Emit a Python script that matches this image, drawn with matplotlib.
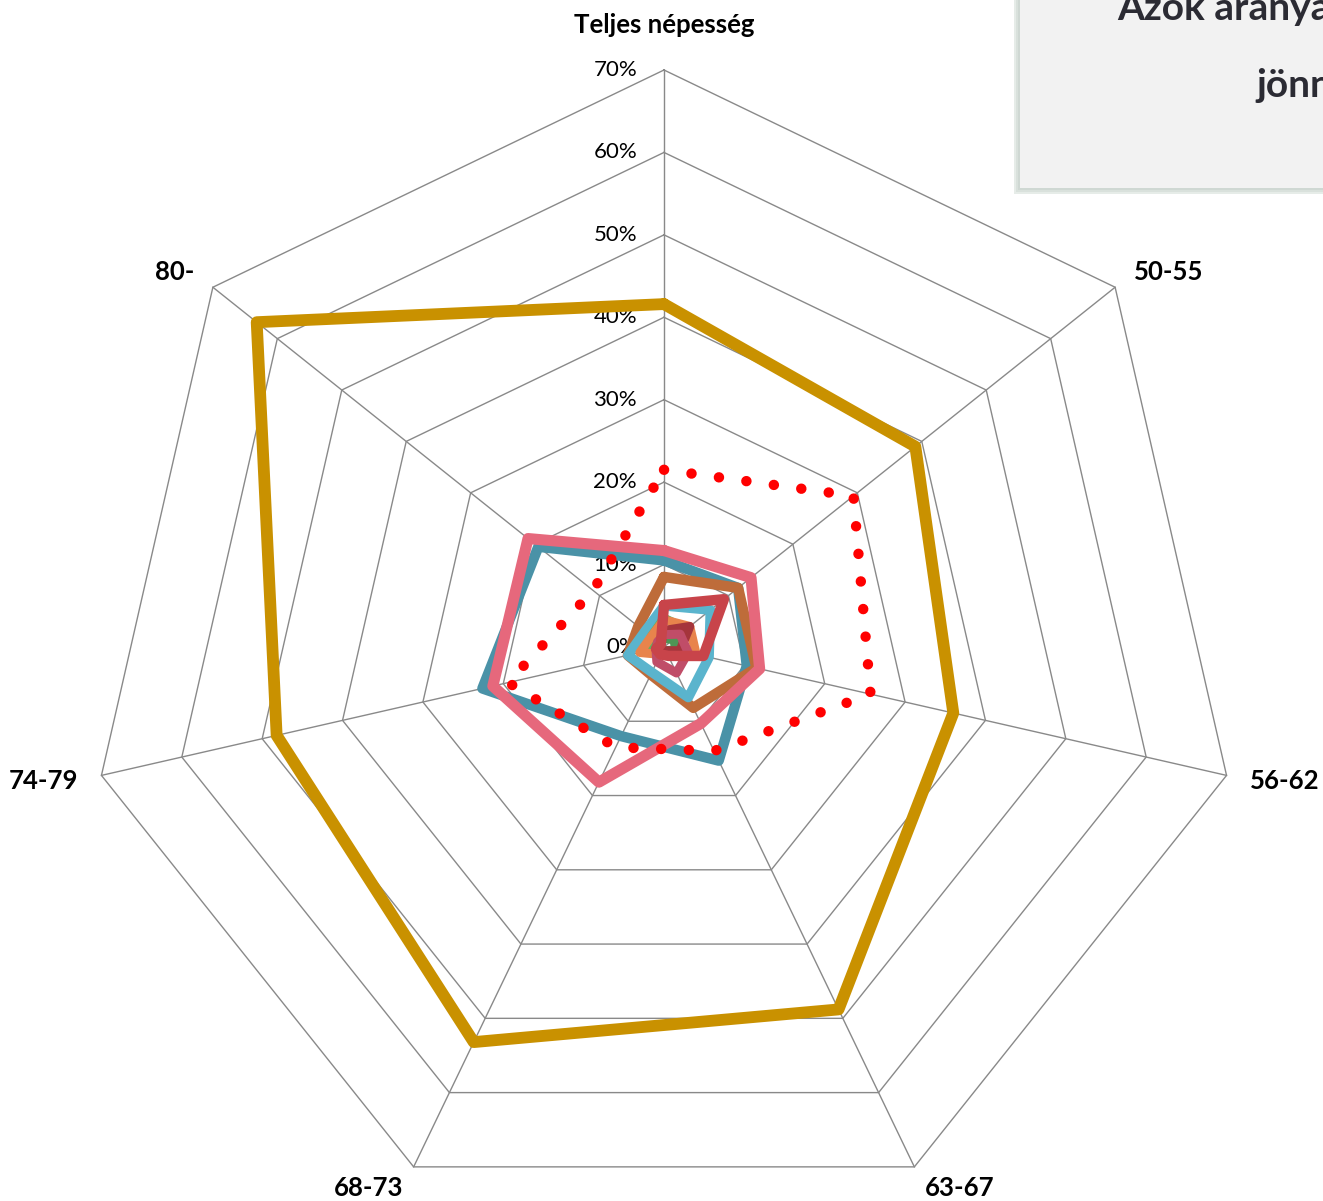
import numpy as np
import matplotlib
matplotlib.use("Agg")
import matplotlib.pyplot as plt
from matplotlib.patches import Rectangle

plt.rcParams['font.family'] = ['Lato', 'DejaVu Sans']

categories = ['Teljes népesség', '50-55', '56-62', '63-67', '68-73', '74-79', '80-']
ticks = [0, 10, 20, 30, 40, 50, 60, 70]
tick_labels = ['0%', '10%', '20%', '30%', '40%', '50%', '60%', '70%']

# values in percent, one per category
teal = [10.5, 11.5, 10.3, 15.3, 12.0, 22.6, 19.5]
brown = [8.5, 11.5, 11.5, 8.2, 3.7, 4.5, 4.0]
light_blue = [5.0, 7.2, 5.6, 6.8, 3.4, 4.5, 3.0]
green = [3.5, 3.5, 2.0, 1.0, 0.5, 1.5, 2.0]
dark_green = [1.0, 1.5, 1.5, 0.5, 0.5, 1.0, 1.0]
orange = [3.3, 4.0, 4.0, 1.0, 1.0, 3.0, 2.0]
maroon = [2.0, 4.0, 2.0, 0.5, 0.5, 0.5, 0.5]
crimson = [1.5, 2.5, 3.0, 3.5, 2.0, 1.0, 1.0]
dark_red = [5.1, 9.3, 4.9, 1.2, 1.0, 1.0, 0.5]
pink = [11.7, 13.5, 11.9, 10.3, 18.2, 21.3, 21.1]
red_dotted = [21.5, 29.4, 25.7, 14.0, 13.5, 19.4, 11.0]
gold = [41.6, 39.0, 36.0, 48.8, 53.2, 48.2, 63.2]

n = len(categories)
angles = np.arange(n) * 2 * np.pi / n  # clockwise from the top

def to_xy(vals):
    v = np.append(vals, vals[0])
    a = np.append(angles, angles[0])
    return v * np.sin(a), v * np.cos(a)

PX = 8.243  # pixels per percent

fig = plt.figure(figsize=(13.23, 12.01), dpi=100)
ax = fig.add_axes([0, 0, 1, 1])
ax.set_xlim(-664 / PX, (1323 - 664) / PX)
ax.set_ylim(-(1201 - 647) / PX, 647 / PX)
ax.axis('off')

# grid
for t in ticks[1:]:
    x, y = to_xy([t] * n)
    ax.plot(x, y, color='#898989', lw=1.0, zorder=1)
for a in angles:
    ax.plot([0, 70 * np.sin(a)], [0, 70 * np.cos(a)], color='#898989', lw=1.0, zorder=1)

for t, lab in zip(ticks, tick_labels):
    ax.text(-27 / PX, t, lab, ha='right', va='center', fontsize=16, color='#000000', zorder=2)

# category labels
for i, (a, lab) in enumerate(zip(angles, categories)):
    s, c = np.sin(a), np.cos(a)
    pad = 45 if i == 0 else 24
    x = 70 * s + s * pad / PX
    y = 70 * c + c * pad / PX
    ha = 'left' if s > 0.05 else ('right' if s < -0.05 else 'center')
    ax.text(x, y, lab, ha=ha, va='center', fontsize=18.5, fontweight='bold', color='#000000')

series = [
    (teal, '#4A92A7', 7.5),
    (brown, '#BE6C3A', 7.5),
    (light_blue, '#5AB4CD', 7.0),
    (green, '#5FB160', 6.5),
    (dark_green, '#4E9555', 6.5),
    (orange, '#E8844C', 6.5),
    (maroon, '#A5353C', 6.5),
    (crimson, '#C04D68', 6.5),
    (dark_red, '#C8444A', 7.5),
    (pink, '#E6687C', 8.0),
]
for k, (vals, col, lw) in enumerate(series):
    x, y = to_xy(vals)
    ax.plot(x, y, color=col, lw=lw, solid_joinstyle='round', solid_capstyle='round', zorder=3 + k)

x, y = to_xy(red_dotted)
ax.plot(x, y, color='#FF0000', lw=7.5, linestyle=(0, (0.01, 2.65)), dash_capstyle='round', zorder=20)

x, y = to_xy(gold)
ax.plot(x, y, color='#C99100', lw=8.5, solid_joinstyle='round', solid_capstyle='round', zorder=21)

# title box (cut off at the right edge in the original), soft shadow left and below
for d, col in [(6, '#E6ECE8'), (4, '#D9E1DC'), (2, '#CFD8D3')]:
    fig.patches.append(Rectangle(((1020 - d) / 1323, 1 - (188 + d) / 1201), 0.3, 0.3,
                                 transform=fig.transFigure, facecolor=col, edgecolor='none', zorder=0))
fig.patches.append(Rectangle((1020 / 1323, 1 - 188 / 1201), 0.3, 0.3, transform=fig.transFigure,
                             facecolor='#F2F2F2', edgecolor='none', zorder=1))
fig.text(1117 / 1323, 1 - 20 / 1201, 'Azok aránya', ha='left', va='baseline', fontsize=28,
         fontweight='bold', color='#2B2B33')
fig.text(1256 / 1323, 1 - 97 / 1201, 'jönn', ha='left', va='baseline', fontsize=28,
         fontweight='bold', color='#2B2B33')

fig.savefig('out.png', dpi=100)
